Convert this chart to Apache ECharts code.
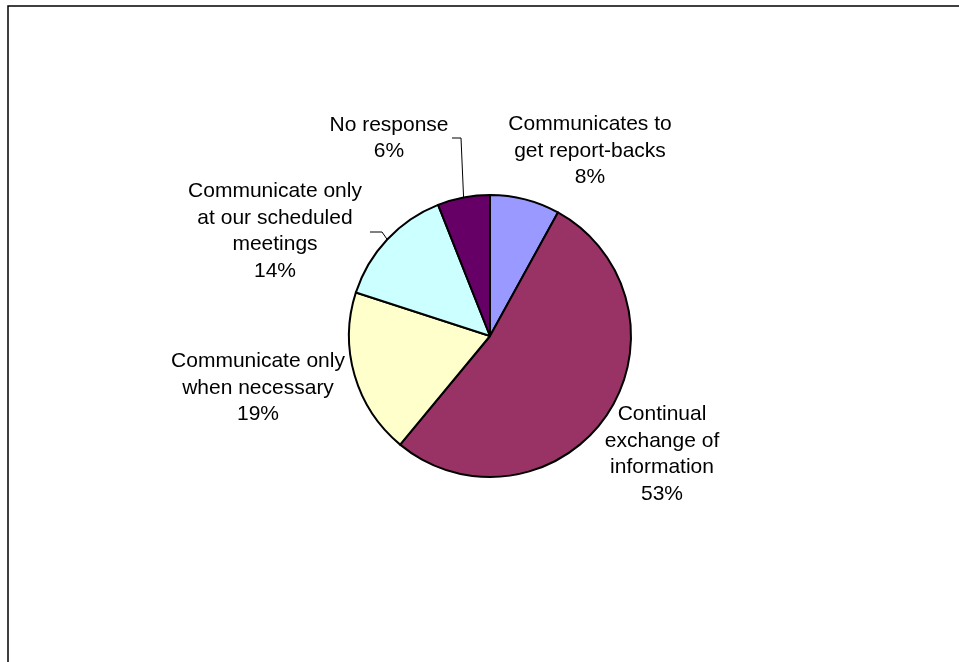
<!DOCTYPE html>
<html>
<head>
<meta charset="utf-8">
<style>
  html, body { margin: 0; padding: 0; background: #fff; }
  #chart { width: 959px; height: 662px; }
</style>
<script src="https://cdn.jsdelivr.net/npm/echarts@6/dist/echarts.min.js"></script>
</head>
<body>
<div id="chart"></div>
<script>
// Survey answers: how the group communicates
const categories = [
  'Communicates to\nget report-backs',
  'Continual\nexchange of\ninformation',
  'Communicate only\nwhen necessary',
  'Communicate only\nat our scheduled\nmeetings',
  'No response'
];
const shares = [8, 53, 19, 14, 6];
const sliceColors = ['#9999FF', '#993366', '#FFFFCC', '#CCFFFF', '#660066'];

// Pie geometry
const CX = 490, CY = 336, R = 141;

// Label centres, relative to the pie centre
const labelOffsets = [
  [100, -185],
  [172, 118],
  [-232, 52],
  [-215, -105],
  [-101, -198]
];
// Elbow and end points of the leader lines (relative to the pie centre)
const leaderTails = {
  3: [[-108, -104], [-120, -104]],
  4: [[-29, -198], [-38, -198]]
};

const data = categories.map((name, i) => ({
  name: name,
  value: shares[i],
  itemStyle: { color: sliceColors[i] },
  labelLine: { show: !!leaderTails[i] }
}));

const chart = echarts.init(document.getElementById('chart'), null, { renderer: 'canvas' });

chart.setOption({
  animation: false,
  backgroundColor: '#ffffff',
  graphic: [{
    type: 'rect',
    shape: { x: 8, y: 6, width: 1200, height: 1200 },
    style: { fill: 'none', stroke: '#000', lineWidth: 1.5 },
    silent: true
  }],
  series: [{
    type: 'pie',
    center: [CX, CY],
    radius: R,
    startAngle: 90,
    clockwise: true,
    avoidLabelOverlap: false,
    data: data,
    itemStyle: { borderColor: '#000', borderWidth: 2 },
    label: {
      show: true,
      position: 'outside',
      formatter: p => p.name + '\n' + p.value + '%',
      fontFamily: '"Liberation Sans", Arial, sans-serif',
      fontSize: 21,
      lineHeight: 26.5,
      color: '#000',
      align: 'center'
    },
    labelLine: {
      length: 10,
      length2: 10,
      smooth: false,
      lineStyle: { color: '#000', width: 1 }
    },
    emphasis: { disabled: true },
    labelLayout: function (params) {
      const i = params.dataIndex;
      const off = labelOffsets[i];
      const out = {
        x: CX + off[0],
        y: CY + off[1],
        align: 'center',
        verticalAlign: 'middle'
      };
      const tail = leaderTails[i];
      if (tail && params.labelLinePoints) {
        const start = params.labelLinePoints[0];
        out.labelLinePoints = [
          [start[0], start[1]],
          [CX + tail[0][0], CY + tail[0][1]],
          [CX + tail[1][0], CY + tail[1][1]]
        ];
      }
      return out;
    }
  }]
});
</script>
</body>
</html>
